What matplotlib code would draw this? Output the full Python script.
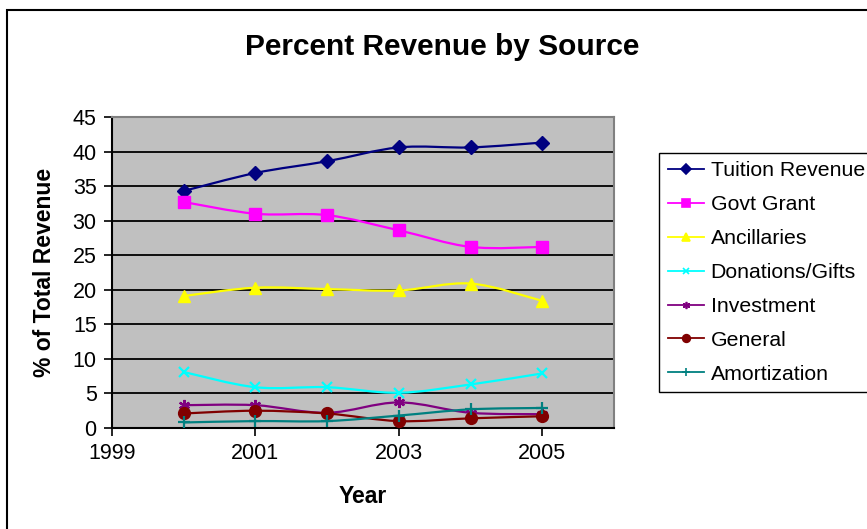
import numpy as np
import matplotlib
matplotlib.use("Agg")
import matplotlib.pyplot as plt
from matplotlib.path import Path
from matplotlib.patches import PathPatch, Rectangle
from matplotlib.lines import Line2D

plt.rcParams['font.family'] = ['Liberation Sans', 'DejaVu Sans']

years = [2000, 2001, 2002, 2003, 2004, 2005]
tuition = [34.3, 36.9, 38.6, 40.6, 40.6, 41.3]
govt_grant = [32.7, 31.0, 30.8, 28.6, 26.2, 26.2]
ancillaries = [19.1, 20.3, 20.1, 19.9, 20.9, 18.4]
donations = [8.1, 5.9, 5.9, 5.1, 6.3, 7.9]
investment = [3.3, 3.3, 2.2, 3.7, 2.2, 2.0]
general = [2.1, 2.5, 2.1, 1.0, 1.4, 1.7]
amortization = [0.8, 1.0, 1.0, 1.8, 2.7, 2.9]

series_names = ["Tuition Revenue", "Govt Grant", "Ancillaries", "Donations/Gifts",
                "Investment", "General", "Amortization"]
series_values = [tuition, govt_grant, ancillaries, donations, investment, general, amortization]
colors = ["#000080", "#FF00FF", "#FFFF00", "#00FFFF", "#800080", "#800000", "#008080"]
markers = ["D", "s", "^", "x", (6, 2, 0), "o", "+"]
msizes = [7.5, 8, 9, 7, 8, 8.5, 8]

fig = plt.figure(figsize=(8.67, 5.29), dpi=100)
ax = fig.add_axes([112 / 867, 1 - 428 / 529, (614 - 112) / 867, (428 - 117) / 529])
ax.set_facecolor("#C0C0C0")


def smooth_path(xs, ys):
    """Cubic Bezier path through the points (Catmull-Rom style control points)."""
    pts = np.column_stack([xs, ys]).astype(float)
    n = len(pts)
    verts = [pts[0]]
    codes = [Path.MOVETO]
    for i in range(n - 1):
        p0 = pts[i - 1] if i > 0 else pts[i]
        p1 = pts[i]
        p2 = pts[i + 1]
        p3 = pts[i + 2] if i + 2 < n else pts[i + 1]
        c1 = p1 + (p2 - p0) / 6.0
        c2 = p2 - (p3 - p1) / 6.0
        verts += [c1, c2, p2]
        codes += [Path.CURVE4] * 3
    return Path(verts, codes)


handles = []
for name, vals, c, m, ms in zip(series_names, series_values, colors, markers, msizes):
    patch = PathPatch(smooth_path(years, vals), facecolor="none", edgecolor=c,
                      linewidth=1.6, zorder=3)
    ax.add_patch(patch)
    ax.plot(years, vals, linestyle="none", marker=m, markersize=ms, color=c,
            markeredgecolor=c, markeredgewidth=1.6 if m in ("x", "+", (6, 2, 0)) else 1,
            zorder=4)
    handles.append(Line2D([], [], color=c, linewidth=1.3, marker=m,
                          markersize=ms * 0.65, markeredgewidth=1.2))

ax.set_xlim(1999, 2006)
ax.set_ylim(0, 45)
ax.set_xticks([1999, 2001, 2003, 2005])
ax.set_yticks(np.arange(0, 50, 5))
ax.yaxis.grid(True, color="black", linewidth=1.3)
ax.set_axisbelow(True)
ax.tick_params(axis="both", direction="out", length=6, width=1.2, labelsize=15.5, pad=5)
for side in ("top", "right"):
    ax.spines[side].set_color("#808080")
    ax.spines[side].set_linewidth(1.5)
for side in ("left", "bottom"):
    ax.spines[side].set_color("black")
    ax.spines[side].set_linewidth(1.5)

ax.set_xlabel("Year", fontsize=16.5, fontweight="bold", labelpad=15)
ax.set_ylabel("% of Total Revenue", fontsize=16.5, fontweight="bold", labelpad=12)
fig.text(442 / 867, 1 - 47 / 529, "Percent Revenue by Source", ha="center", va="center",
         fontsize=21.5, fontweight="bold")

leg = fig.legend(handles, series_names, loc="upper left",
                 bbox_to_anchor=(659 / 867, 1 - 153 / 529), fontsize=15.3,
                 frameon=True, fancybox=False, framealpha=1, edgecolor="black",
                 handlelength=1.7, handletextpad=0.33, labelspacing=0.7,
                 borderpad=0.4, borderaxespad=0)
leg.get_frame().set_linewidth(1.0)

fig.patches.append(Rectangle((7 / 867, -0.05), 1.05, 1 - 10 / 529 + 0.05,
                             transform=fig.transFigure, fill=False,
                             edgecolor="black", linewidth=1.5))

fig.savefig("out.png", dpi=100)
